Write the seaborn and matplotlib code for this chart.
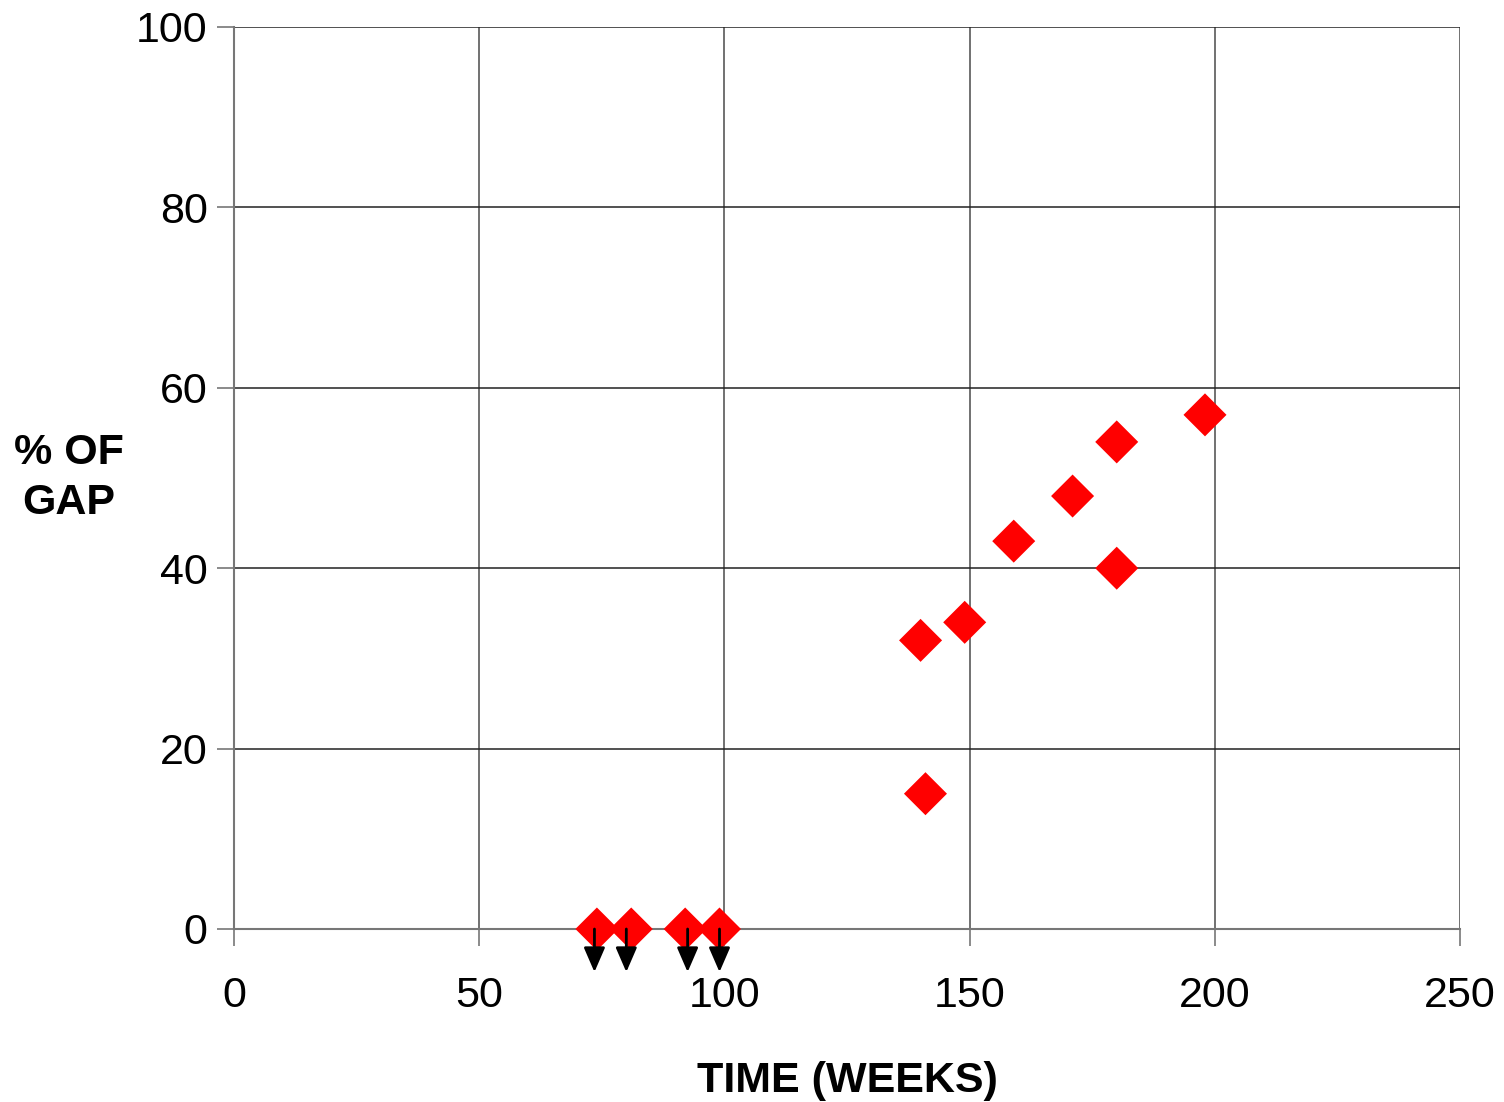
import pandas as pd
import numpy as np
import matplotlib.pyplot as plt
import seaborn as sns
from matplotlib.transforms import offset_copy

# values
weeks = [74, 81, 92, 99, 140, 141, 149, 159, 171, 180, 180, 198]
pct_gap = [0, 0, 0, 0, 32, 15, 34, 43, 48, 54, 40, 57]
# points at zero that carry a downward arrow (below detection)
arrow_weeks = [73.5, 80, 92.5, 99]

df = pd.DataFrame({"weeks": weeks, "pct": pct_gap})

sns.set_style("white")
plt.rcParams['font.family'] = ['Liberation Sans', 'DejaVu Sans']
plt.rcParams['text.color'] = 'black'
plt.rcParams['xtick.color'] = 'black'
plt.rcParams['ytick.color'] = 'black'

fig = plt.figure(figsize=(15.04, 11.02), dpi=100)
ax = fig.add_axes([234/1504, 1 - 929/1102, 1226/1504, 902/1102])

sns.scatterplot(data=df, x="weeks", y="pct", marker="D", s=480, color="#ff0000",
                edgecolor="none", linewidth=0, ax=ax, zorder=3, clip_on=False)

ax.set_xlim(0, 250)
ax.set_ylim(0, 100)
ax.set_xticks(np.arange(0, 251, 50))
ax.set_yticks(np.arange(0, 101, 20))
ax.yaxis.grid(True, color="#222222", linewidth=1.1)
ax.xaxis.grid(True, color="#666666", linewidth=1.3)
ax.set_axisbelow(True)
for side in ["top", "right"]:
    ax.spines[side].set_visible(False)
for side in ["left", "bottom"]:
    ax.spines[side].set_color("#777777")
    ax.spines[side].set_linewidth(1.5)

ax.tick_params(axis="both", which="major", direction="out", length=12, width=1.2,
               color="#777777", labelcolor="black", labelsize=31, left=True, bottom=True)
ax.tick_params(axis="y", pad=7)
ax.tick_params(axis="x", pad=22)

ax.set_xlabel("TIME (WEEKS)", fontsize=31, fontweight="bold", labelpad=32, color="black")
ax.set_ylabel("% OF\nGAP", fontsize=31, fontweight="bold", rotation=0, color="black",
              ha="center", va="center", linespacing=1.35)
ax.yaxis.set_label_coords(-0.135, 0.5)

# downward arrows from the zero points
tip = offset_copy(ax.transData, fig=fig, y=-31, units="points")
for w in arrow_weeks:
    ax.annotate("", xy=(w, 0), xycoords=tip, xytext=(w, 0), textcoords="data",
                annotation_clip=False, zorder=4,
                arrowprops=dict(arrowstyle="-|>,head_length=1.5,head_width=0.65",
                                color="black", lw=2, shrinkA=0, shrinkB=0))

plt.savefig("out.png", dpi=100)
